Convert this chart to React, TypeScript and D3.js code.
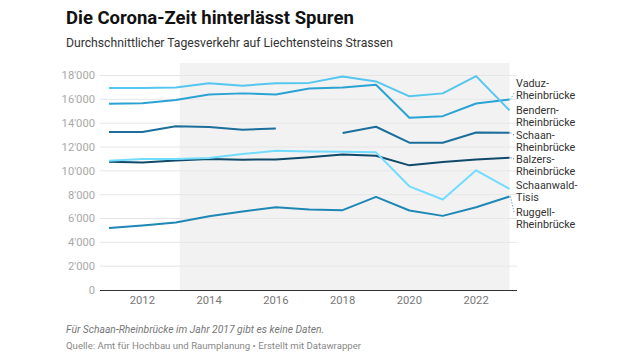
import React from "react";
import * as d3 from "d3";

const years = [2011, 2012, 2013, 2014, 2015, 2016, 2017, 2018, 2019, 2020, 2021, 2022, 2023];
const bendern = [16950, 16950, 17000, 17350, 17150, 17350, 17380, 17920, 17500, 16250, 16500, 17950, 15080];
const vaduz = [15620, 15670, 15950, 16400, 16500, 16400, 16900, 17000, 17220, 14450, 14590, 15650, 15990];
const schaan: (number | null)[] = [13250, 13250, 13750, 13670, 13450, 13560, null, 13170, 13700, 12360, 12360, 13220, 13200];
const balzers = [10770, 10690, 10860, 10990, 10940, 10960, 11150, 11380, 11270, 10460, 10740, 10960, 11100];
const schaanwald = [10850, 10990, 10990, 11070, 11410, 11690, 11630, 11600, 11550, 8700, 7590, 10040, 8480];
const ruggell = [5210, 5410, 5660, 6190, 6580, 6950, 6750, 6700, 7810, 6670, 6220, 6950, 7840];
const yTicks = [0, 2000, 4000, 6000, 8000, 10000, 12000, 14000, 16000, 18000];
const xTicks = [2012, 2014, 2016, 2018, 2020, 2022];
const highlightStart = 2013.12;

const series = [
  { name: ["Vaduz-", "Rheinbrücke"], values: vaduz, color: "#2aa3d4", labelY: 89 },
  { name: ["Bendern-", "Rheinbrücke"], values: bendern, color: "#55c6ef", labelY: 116 },
  { name: ["Schaan-", "Rheinbrücke"], values: schaan, color: "#1c6f9c", labelY: 141 },
  { name: ["Balzers-", "Rheinbrücke"], values: balzers, color: "#0f4a6b", labelY: 165 },
  { name: ["Schaanwald-", "Tisis"], values: schaanwald, color: "#72dcff", labelY: 191 },
  { name: ["Ruggell-", "Rheinbrücke"], values: ruggell, color: "#1f87b6", labelY: 218 },
];

const fmt = (v: number) => (v === 0 ? "0" : d3.format(",")(v).replace(/,/g, "'"));

export default function App() {
  const W = 640, H = 360;
  const x = d3.scaleLinear().domain([2011, 2023]).range([109, 509.5]);
  const y = d3.scaleLinear().domain([0, 18000]).range([290, 75.5]);
  const line = d3
    .line<number | null>()
    .defined((d) => d != null)
    .x((_, i) => x(years[i]))
    .y((d) => y(d as number));
  const font = "Roboto, 'Noto Sans', sans-serif";
  return (
    <svg width={W} height={H} style={{ position: "absolute", left: 0, top: 0, fontFamily: font }}>
      <rect width={W} height={H} fill="#fff" />
      <text x={66} y={24} fontSize={18.5} fontWeight={700} fill="#111">Die Corona-Zeit hinterlässt Spuren</text>
      <text x={66} y={47} fontSize={12.2} fill="#333">Durchschnittlicher Tagesverkehr auf Liechtensteins Strassen</text>
      <rect x={x(highlightStart)} y={y(19050)} width={x(2023) - x(highlightStart)} height={y(0) - y(19050)} fill="#f2f2f2" />
      {yTicks.map((t) => (
        <g key={t}>
          {t > 0 && <line x1={100} x2={517} y1={y(t)} y2={y(t)} stroke="#e6e6e6" strokeWidth={1} />}
          <text x={95} y={y(t)} dy="0.35em" textAnchor="end" fontSize={11.2} fill="#a8a8a8">{fmt(t)}</text>
        </g>
      ))}
      <line x1={100} x2={517} y1={y(0) + 0.5} y2={y(0) + 0.5} stroke="#333" strokeWidth={1} />
      {xTicks.map((t) => (
        <text key={t} x={x(t)} y={304} textAnchor="middle" fontSize={11.2} fill="#777">{t}</text>
      ))}
      {series.map((s) => (
        <path key={s.name[0]} d={line(s.values) || ""} fill="none" stroke={s.color} strokeWidth={2} strokeLinejoin="round" />
      ))}
      {series.map((s) => {
        const last = s.values[s.values.length - 1] as number;
        const ly = y(last);
        const showLeader = Math.abs(ly - s.labelY) > 7;
        const targetY = s.labelY < ly ? s.labelY - 4 + 8 : s.labelY - 6;
        return (
          <g key={s.name[0] + "l"}>
            {showLeader && (
              <line x1={x(2023) + 1} y1={ly} x2={514} y2={targetY} stroke={s.color} strokeWidth={1} strokeDasharray="1,2" />
            )}
            <text x={516} y={s.labelY - 6} dy="0.35em" fontSize={10.8} fill="#333">{s.name[0]}</text>
            <text x={516} y={s.labelY + 5.8} dy="0.35em" fontSize={10.8} fill="#333">{s.name[1]}</text>
          </g>
        );
      })}
      <text x={66} y={333} fontSize={10.3} fontStyle="italic" fill="#777">Für Schaan-Rheinbrücke im Jahr 2017 gibt es keine Daten.</text>
      <text x={66} y={349} fontSize={9.6} fill="#888">Quelle: Amt für Hochbau und Raumplanung • Erstellt mit Datawrapper</text>
    </svg>
  );
}
